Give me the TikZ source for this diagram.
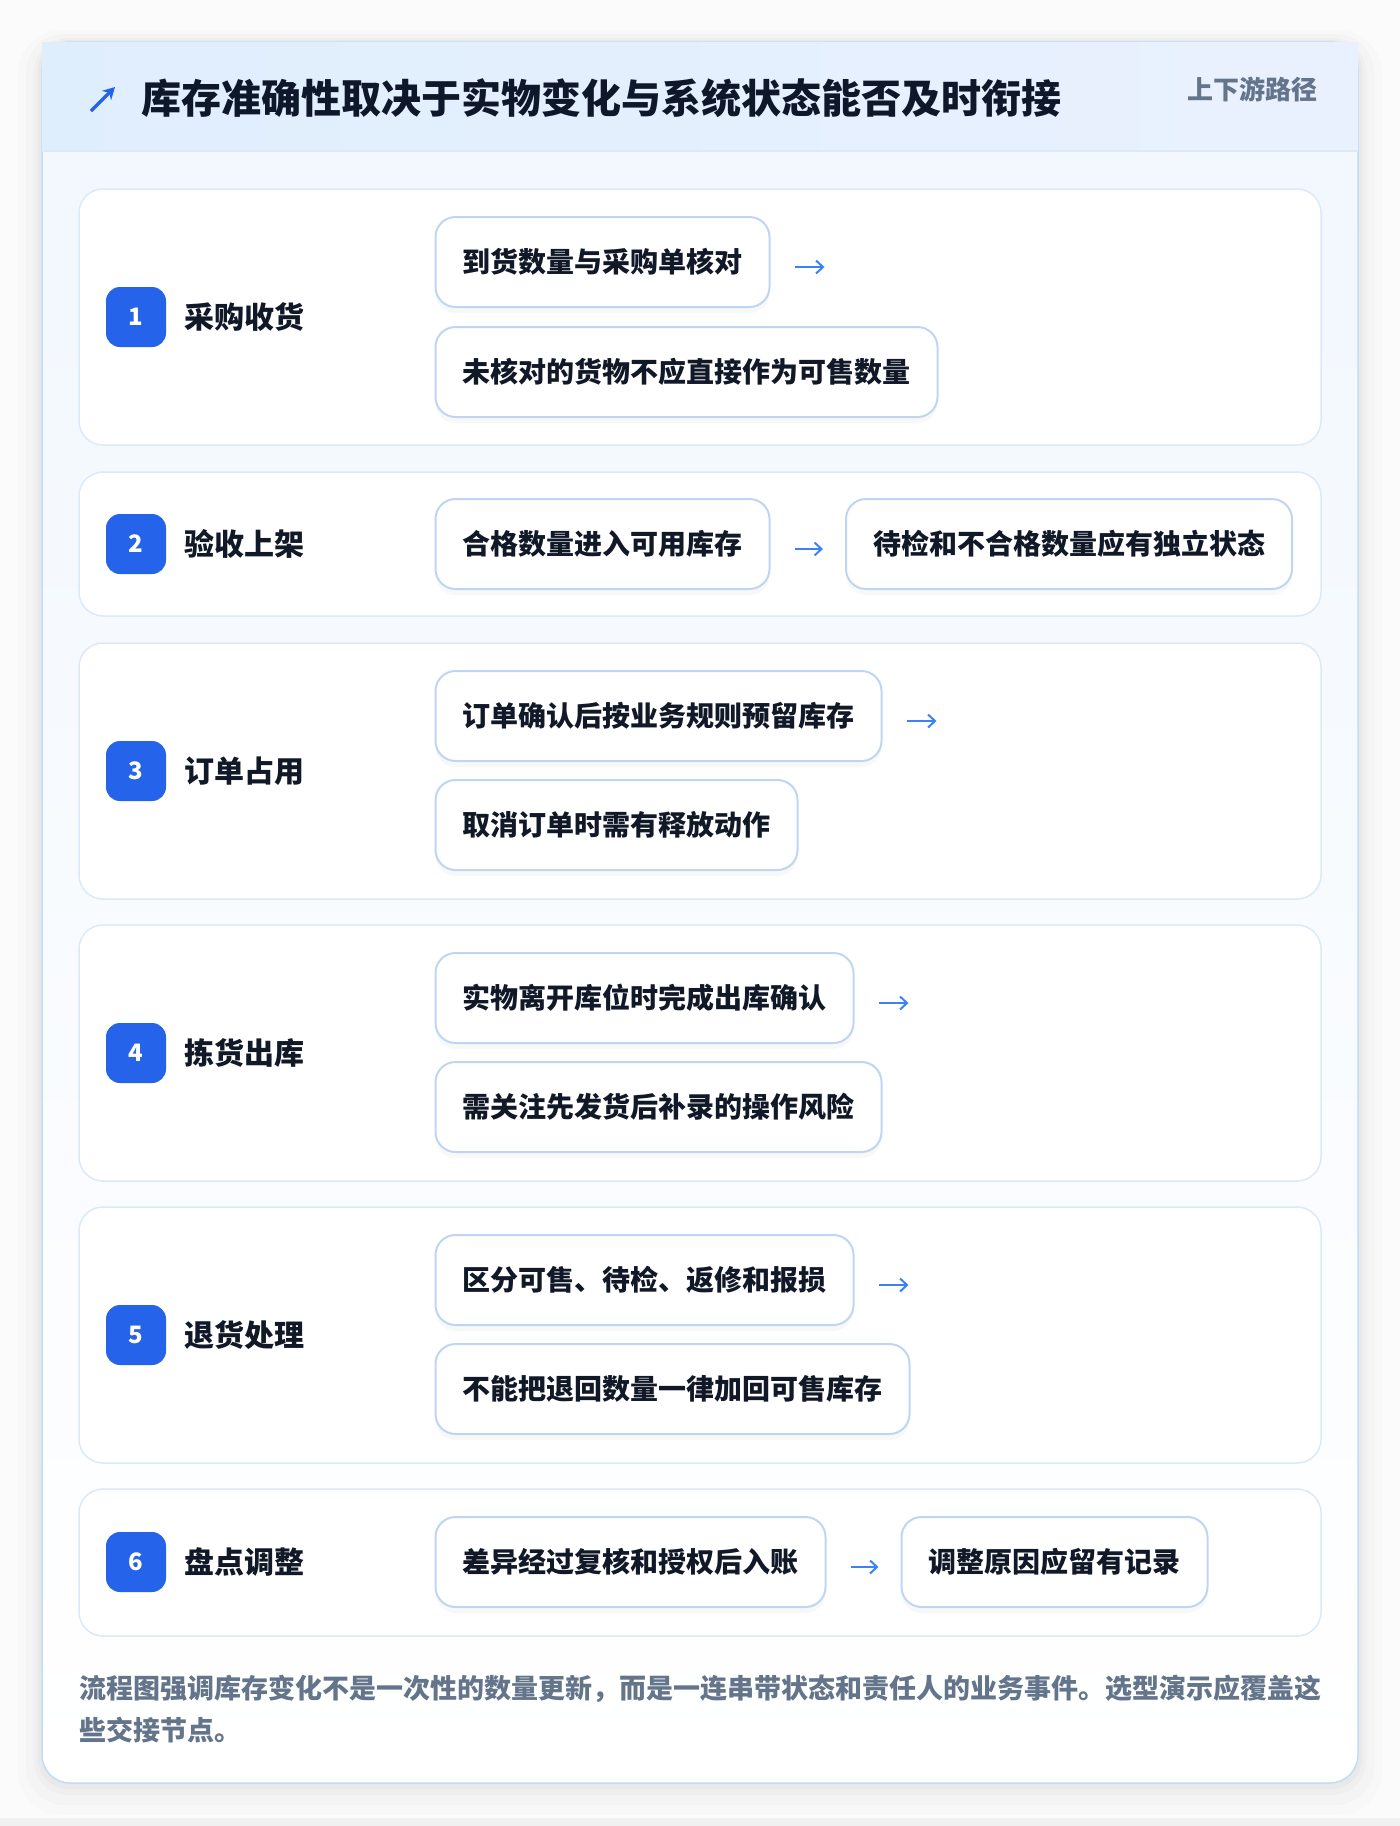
\documentclass[tikz,border=0pt]{standalone}
\usepackage{fontspec}
\setmainfont{Noto Sans CJK SC}
\usetikzlibrary{arrows.meta,shadows}

\definecolor{ink}{HTML}{111827}
\definecolor{titleink}{HTML}{0F172A}
\definecolor{muted}{HTML}{64748B}
\definecolor{badgeblue}{HTML}{2563EB}
\definecolor{flowblue}{HTML}{3B82F6}
\definecolor{boxline}{HTML}{BFD6F3}
\definecolor{rowline}{HTML}{DCE9F8}
\definecolor{cardline}{HTML}{BFDDF5}
\definecolor{headleft}{HTML}{DFEEFD}
\definecolor{headright}{HTML}{EAF1FE}
\definecolor{bodytop}{HTML}{F1F7FE}

\begin{document}
\begin{tikzpicture}[x=0.5pt,y=-0.5pt]

     \tikzstyle{box}=[draw=boxline,line width=1pt,fill=white,rounded corners=10pt,anchor=west,
        minimum height=45pt,inner xsep=13.5pt,inner ysep=0pt,text=ink,
        font=\fontsize{14pt}{16pt}\selectfont\bfseries,
        drop shadow={shadow xshift=0pt,shadow yshift=-3pt,opacity=0.05}]
     \tikzstyle{badge}=[fill=badgeblue,rounded corners=7pt,minimum size=30pt,inner sep=0pt,
        text=white,font=\fontsize{12pt}{14pt}\selectfont\bfseries]
     \tikzstyle{lbl}=[anchor=west,inner sep=0pt,text=ink,font=\fontsize{15pt}{18pt}\selectfont\bfseries]
     \tikzstyle{rowcard}=[draw=rowline,line width=0.75pt,fill=white,rounded corners=12pt]
     \tikzstyle{flow}=[draw=flowblue,line width=1pt,-{Straight Barb[length=3.5pt,width=6.5pt]},shorten <=12pt]

      \useasboundingbox (0,0) rectangle (1400,1826);
      \fill[white!97!gray] (0,0) rectangle (1400,1826);
      \fill[black!6] (0,1818) rectangle (1400,1826);

      % outer card with soft shadow
      \fill[black,opacity=0.012,rounded corners=22pt] (18,30) rectangle (1382,1815);
      \fill[black,opacity=0.015,rounded corners=19pt] (26,34) rectangle (1374,1805);
      \fill[black,opacity=0.02,rounded corners=17pt] (34,38) rectangle (1366,1795);
      \fill[black,opacity=0.025,rounded corners=15pt] (38,40) rectangle (1362,1789);
      \shade[top color=bodytop,bottom color=white,rounded corners=14pt] (42,42) rectangle (1358,1783);
      \draw[cardline,line width=0.75pt,rounded corners=14pt] (42,42) rectangle (1358,1783);

      % header
      \shade[left color=headleft,right color=headright] (42,42) rectangle (1358,151);
      \draw[rowline,line width=1pt] (42,151) -- (1358,151);
      \draw[badgeblue,line width=1.6pt,-{Stealth[length=6pt,width=6.5pt]}] (91,111) -- (115,87);
      \node[anchor=west,inner sep=0pt,text=titleink,font=\fontsize{20pt}{24pt}\selectfont\bfseries] (title) at (141,98)
         {库存准确性取决于实物变化与系统状态能否及时衔接};
      \node[anchor=east,inner sep=0pt,text=muted,font=\fontsize{13pt}{16pt}\selectfont\bfseries] (tag) at (1318,89) {上下游路径};

      \begin{scope}
         % 1 采购收货
         \draw[rowcard] (79,189) rectangle (1321,445);
         \node[badge] (s1) at (136,317) {1};
         \node[lbl] (l1) at (184,317) {采购收货};
         \node[box] (b11) at (434.5,262) {到货数量与采购单核对};
         \node[box] (b12) at (434.5,372) {未核对的货物不应直接作为可售数量};
         \coordinate (e1) at ([xshift=27pt,yshift=-2.5pt]b11.east);
         \draw[flow] ([yshift=-2.5pt]b11.east) -- (e1);

         % 2 验收上架
         \draw[rowcard] (79,472) rectangle (1321,616);
         \node[badge] (s2) at (136,544) {2};
         \node[lbl] (l2) at (184,544) {验收上架};
         \node[box] (b21) at (434.5,544) {合格数量进入可用库存};
         \node[box] (b22) at (845,544) {待检和不合格数量应有独立状态};
         \draw[flow,shorten >=11pt] ([yshift=-2.5pt]b21.east) -- ([yshift=-2.5pt]b22.west);

         % 3 订单占用
         \draw[rowcard] (79,643) rectangle (1321,899);
         \node[badge] (s3) at (136,771) {3};
         \node[lbl] (l3) at (184,771) {订单占用};
         \node[box] (b31) at (434.5,716) {订单确认后按业务规则预留库存};
         \node[box] (b32) at (434.5,825) {取消订单时需有释放动作};
         \coordinate (e3) at ([xshift=27pt,yshift=-2.5pt]b31.east);
         \draw[flow] ([yshift=-2.5pt]b31.east) -- (e3);

         % 4 拣货出库
         \draw[rowcard] (79,925) rectangle (1321,1181);
         \node[badge] (s4) at (136,1053) {4};
         \node[lbl] (l4) at (184,1053) {拣货出库};
         \node[box] (b41) at (434.5,998) {实物离开库位时完成出库确认};
         \node[box] (b42) at (434.5,1107) {需关注先发货后补录的操作风险};
         \coordinate (e4) at ([xshift=27pt,yshift=-2.5pt]b41.east);
         \draw[flow] ([yshift=-2.5pt]b41.east) -- (e4);

         % 5 退货处理
         \draw[rowcard] (79,1207) rectangle (1321,1463);
         \node[badge] (s5) at (136,1335) {5};
         \node[lbl] (l5) at (184,1335) {退货处理};
         \node[box] (b51) at (434.5,1280) {区分可售、待检、返修和报损};
         \node[box] (b52) at (434.5,1389) {不能把退回数量一律加回可售库存};
         \coordinate (e5) at ([xshift=27pt,yshift=-2.5pt]b51.east);
         \draw[flow] ([yshift=-2.5pt]b51.east) -- (e5);

         % 6 盘点调整
         \draw[rowcard] (79,1489) rectangle (1321,1636);
         \node[badge] (s6) at (136,1562) {6};
         \node[lbl] (l6) at (184,1562) {盘点调整};
         \node[box] (b61) at (434.5,1562) {差异经过复核和授权后入账};
         \node[box] (b62) at (900.5,1562) {调整原因应留有记录};
         \draw[flow,shorten >=11pt] ([yshift=-2.5pt]b61.east) -- ([yshift=-2.5pt]b62.west);
      \end{scope}

      \node[anchor=west,align=left,inner sep=0pt,text=muted,font=\fontsize{13.5pt}{21pt}\selectfont\bfseries] (note) at (79,1709)
         {流程图强调库存变化不是一次性的数量更新，而是一连串带状态和责任人的业务事件。选型演示应覆盖这\\些交接节点。};

\end{tikzpicture}
\end{document}
